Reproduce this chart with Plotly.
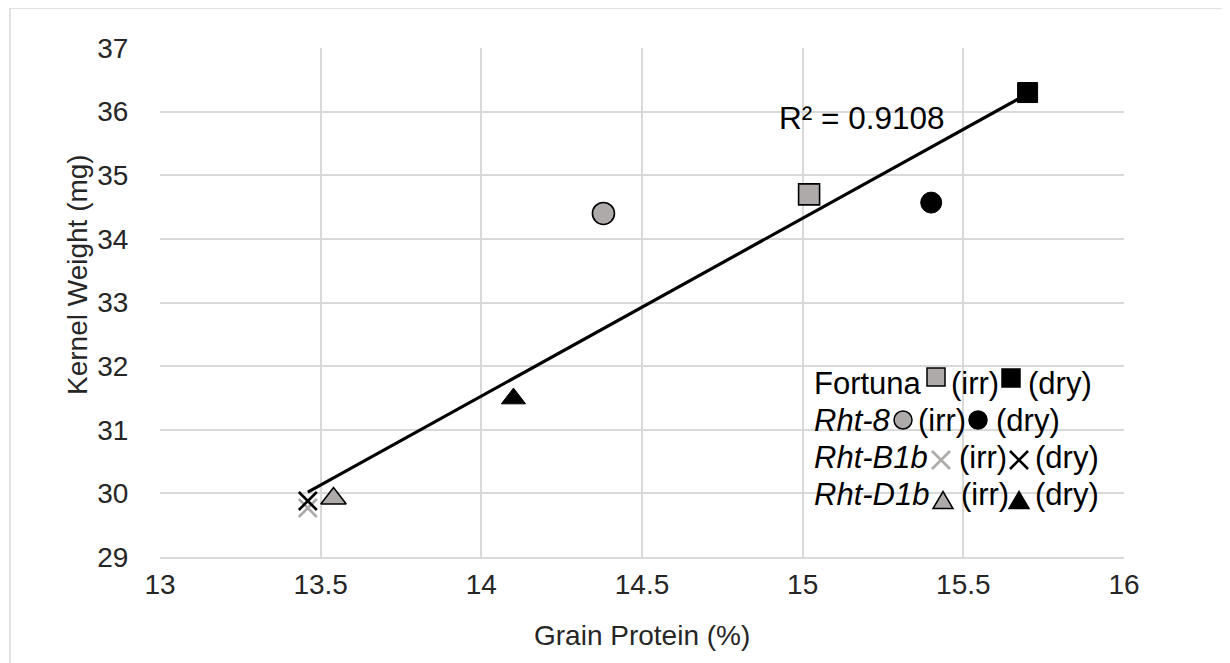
import plotly.graph_objects as go

# ---------------- data ----------------
genotypes = ["Fortuna", "Rht-8", "Rht-B1b", "Rht-D1b"]
protein_irr = [15.02, 14.38, 13.46, 13.54]
weight_irr = [34.70, 34.40, 29.77, 29.92]
protein_dry = [15.70, 15.40, 13.46, 14.10]
weight_dry = [36.30, 34.57, 29.88, 31.49]
trend_x = [13.46, 15.70]
trend_y = [30.02, 36.28]
r2_label = "R² = 0.9108"
x_ticks = [13, 13.5, 14, 14.5, 15, 15.5, 16]
y_ticks = [29, 30, 31, 32, 33, 34, 35, 36, 37]

# ---------------- styles ----------------
GRAY = "#AEAAAA"
FONT = "Liberation Sans, Arial, sans-serif"
symbols = ["square", "circle", "x-thin", "triangle-up"]
sizes = [21, 22, 18, 22]

W, H = 1230, 663
OFF = 8                            # page body margin offset
L, R, T, B = 160, 1124, 48, 557    # plot area in screen pixels


def px(x):
    return (x - L) / (R - L)


def py(y):
    return (B - y) / (B - T)


fig = go.Figure()

fig.add_trace(go.Scatter(x=trend_x, y=trend_y, mode="lines",
                         line=dict(color="black", width=3.2),
                         showlegend=False, hoverinfo="skip"))

for i, g in enumerate(genotypes):
    sym = symbols[i]
    if sym == "x-thin":
        m_irr = dict(symbol=sym, size=sizes[i], line=dict(color=GRAY, width=2.6))
        m_dry = dict(symbol=sym, size=sizes[i], line=dict(color="black", width=2.6))
    else:
        m_irr = dict(symbol=sym, size=sizes[i], color=GRAY,
                     line=dict(color="black", width=1.6))
        m_dry = dict(symbol=sym, size=sizes[i] - 1, color="black",
                     line=dict(color="black", width=1))
    fig.add_trace(go.Scatter(x=[protein_irr[i]], y=[weight_irr[i]], mode="markers",
                             marker=m_irr, name=g + " (irr)", showlegend=False))
    fig.add_trace(go.Scatter(x=[protein_dry[i]], y=[weight_dry[i]], mode="markers",
                             marker=m_dry, name=g + " (dry)", showlegend=False))

annotations = []
shapes = []

# R² label
annotations.append(dict(text=r2_label, x=px(777), y=py(118), xref="paper", yref="paper",
                        xanchor="left", yanchor="middle", showarrow=False,
                        font=dict(family=FONT, size=31.5, color="black")))

# axis titles
annotations.append(dict(text="Grain Protein (%)", x=0.5, y=py(635), xref="paper", yref="paper",
                        xanchor="center", yanchor="middle", showarrow=False,
                        font=dict(family=FONT, size=28, color="#262626")))
annotations.append(dict(text="Kernel Weight (mg)", x=px(77), y=py(275), xref="paper", yref="paper",
                        xanchor="center", yanchor="middle", showarrow=False, textangle=-90,
                        font=dict(family=FONT, size=28, color="#262626")))

# custom legend
rows_y = [383, 420, 457, 494]
name_html = ["Fortuna", "<i>Rht-8</i>", "<i>Rht-B1b</i>", "<i>Rht-D1b</i>"]
irr_text_x = [949, 916, 957, 959]
dry_text_x = [1026, 994, 1033, 1033]
irr_mark = [(936, 377), (903, 420), (941, 460), (943, 500)]
dry_mark = [(1011, 378), (978, 420), (1019, 460), (1019, 500)]
msize = [18, 18, 18, 20]


def legend_marker(kind, cx, cy, s, fill, edge):
    h = s / 2
    if kind == "square":
        shapes.append(dict(type="rect", xref="paper", yref="paper",
                           x0=px(cx - h), x1=px(cx + h), y0=py(cy + h), y1=py(cy - h),
                           fillcolor=fill, line=dict(color=edge, width=1.5)))
    elif kind == "circle":
        shapes.append(dict(type="circle", xref="paper", yref="paper",
                           x0=px(cx - h), x1=px(cx + h), y0=py(cy + h), y1=py(cy - h),
                           fillcolor=fill, line=dict(color=edge, width=1.5)))
    elif kind == "x-thin":
        for (a, b, c, d) in [(-h, -h, h, h), (-h, h, h, -h)]:
            shapes.append(dict(type="line", xref="paper", yref="paper",
                               x0=px(cx + a), y0=py(cy + b), x1=px(cx + c), y1=py(cy + d),
                               line=dict(color=edge, width=2.6)))
    else:
        p = (f"M {px(cx - h)} {py(cy + h * 0.85)} L {px(cx + h)} {py(cy + h * 0.85)} "
             f"L {px(cx)} {py(cy - h * 0.85)} Z")
        shapes.append(dict(type="path", xref="paper", yref="paper", path=p,
                           fillcolor=fill, line=dict(color=edge, width=1.5)))


for i in range(4):
    for txt, xx in [(name_html[i], 812), ("(irr)", irr_text_x[i]), ("(dry)", dry_text_x[i])]:
        annotations.append(dict(text=txt, x=px(xx), y=py(rows_y[i]), xref="paper", yref="paper",
                                xanchor="left", yanchor="middle", showarrow=False,
                                font=dict(family=FONT, size=31, color="black")))
    kind = symbols[i]
    if kind == "x-thin":
        legend_marker(kind, *irr_mark[i], msize[i], None, GRAY)
        legend_marker(kind, *dry_mark[i], msize[i], None, "black")
    else:
        legend_marker(kind, *irr_mark[i], msize[i], GRAY, "black")
        legend_marker(kind, *dry_mark[i], msize[i], "black", "black")

# outer chart border (left and top visible)
shapes.append(dict(type="line", xref="paper", yref="paper", x0=px(10), x1=px(10),
                   y0=py(680), y1=py(8), line=dict(color="#d9d9d9", width=1.5)))
shapes.append(dict(type="line", xref="paper", yref="paper", x0=px(10), x1=px(1240),
                   y0=py(8), y1=py(8), line=dict(color="#d9d9d9", width=1.5)))

fig.update_layout(
    width=W, height=H,
    margin=dict(l=L - OFF, r=W - (R - OFF), t=T - OFF, b=H - (B - OFF), autoexpand=False),
    paper_bgcolor="white", plot_bgcolor="white",
    showlegend=False,
    annotations=annotations, shapes=shapes,
    font=dict(family=FONT, size=28, color="#262626"),
)
fig.update_xaxes(range=[13, 16], tickvals=x_ticks, ticktext=[f"{v:g}" for v in x_ticks],
                 showgrid=True, gridcolor="#d9d9d9", gridwidth=1.5,
                 showline=True, linecolor="#d9d9d9", linewidth=1.5,
                 zeroline=False, ticks="outside", ticklen=0, ticklabelstandoff=2,
                 tickfont=dict(family=FONT, size=28, color="#262626"))
fig.update_yaxes(range=[29, 37], tickvals=y_ticks,
                 showgrid=True, gridcolor="#d9d9d9", gridwidth=1.5,
                 showline=False, zeroline=False, ticks="outside", ticklen=0,
                 ticklabelstandoff=25,
                 tickfont=dict(family=FONT, size=28, color="#262626"))

fig.write_html("out.html")
